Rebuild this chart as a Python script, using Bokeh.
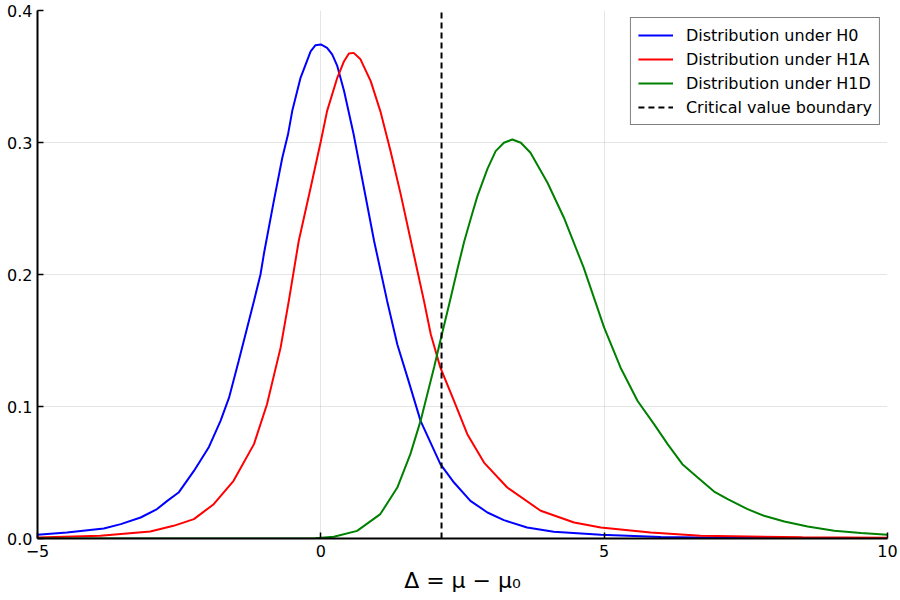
from bokeh.plotting import figure
from bokeh.models import Range1d, FixedTicker, PrintfTickFormatter
from bokeh.embed import file_html
from bokeh.resources import INLINE

# ---- data ----
x_h0 = [-5.0, -4.48, -3.83, -3.53, -3.18, -2.89, -2.71, -2.51, -2.24, -1.98, -1.77,
        -1.62, -1.45, -1.30, -1.18, -1.065, -1.006, -0.83, -0.68, -0.58, -0.505,
        -0.358, -0.18, -0.094, 0.0, 0.11, 0.2, 0.29, 0.41, 0.58, 0.76, 0.94, 1.17,
        1.35, 1.53, 1.76, 2.11, 2.35, 2.64, 2.94, 3.23, 3.64, 4.11, 4.94, 6.0, 7.0,
        8.0, 10.0]
y_h0 = [0.0028, 0.0045, 0.0076, 0.0109, 0.0159, 0.0223, 0.0285, 0.0348, 0.0512,
        0.0689, 0.0891, 0.1067, 0.1345, 0.1597, 0.180, 0.200, 0.2153, 0.2556, 0.2884,
        0.306, 0.3238, 0.349, 0.369, 0.3737, 0.3743, 0.3717, 0.3667, 0.358, 0.339,
        0.306, 0.2657, 0.2254, 0.180, 0.147, 0.1219, 0.0891, 0.0563, 0.0424, 0.0285,
        0.0197, 0.0139, 0.0083, 0.0051, 0.0028, 0.0012, 0.0006, 0.0004, 0.0002]

x_h1a = [-5.0, -3.89, -3.01, -2.60, -2.24, -1.89, -1.54, -1.18, -0.95, -0.71, -0.565,
         -0.39, -0.18, 0.0, 0.11, 0.29, 0.41, 0.495, 0.58, 0.70, 0.88, 1.05, 1.23,
         1.41, 1.64, 1.82, 1.94, 2.11, 2.35, 2.585, 2.88, 3.29, 3.88, 4.47, 4.94,
         5.82, 6.7, 8.5, 10.0]
y_h1a = [0.0007, 0.002, 0.0053, 0.0096, 0.0147, 0.026, 0.0437, 0.0715, 0.1017,
         0.1446, 0.180, 0.2254, 0.2657, 0.301, 0.3238, 0.349, 0.3616, 0.3674, 0.3679,
         0.363, 0.3465, 0.3238, 0.2935, 0.2607, 0.2153, 0.180, 0.1547, 0.1294, 0.1042,
         0.079, 0.0575, 0.0386, 0.021, 0.0121, 0.0083, 0.0045, 0.002, 0.001, 0.0005]

x_h1d = [-5.0, -1.0, -0.1, 0.23, 0.64, 1.05, 1.35, 1.58, 1.76, 2.0, 2.11, 2.29, 2.41,
         2.53, 2.65, 2.76, 2.94, 3.085, 3.23, 3.38, 3.53, 3.70, 4.0, 4.29, 4.64, 5.0,
         5.29, 5.59, 5.88, 6.12, 6.38, 6.65, 6.94, 7.18, 7.53, 7.82, 8.18, 8.59, 9.06,
         9.53, 10.0]
y_h1d = [0.0, 0.0, 0.0002, 0.0013, 0.0058, 0.0185, 0.0386, 0.0639, 0.0891, 0.130,
         0.150, 0.182, 0.204, 0.225, 0.243, 0.259, 0.280, 0.2935, 0.2998, 0.3023,
         0.2998, 0.2922, 0.2695, 0.243, 0.205, 0.1597, 0.1294, 0.1042, 0.0866, 0.0715,
         0.0563, 0.0462, 0.0356, 0.0298, 0.0223, 0.0172, 0.0129, 0.0091, 0.0058,
         0.0041, 0.0028]

crit_value = 2.13
x_limits = [-5, 10]
y_limits = [0.0, 0.4]
x_ticks = [-5, 0, 5, 10]
y_ticks = [0.0, 0.1, 0.2, 0.3, 0.4]

labels = ["Distribution under H0", "Distribution under H1A",
          "Distribution under H1D", "Critical value boundary"]

FONT = "DejaVu Sans"

p = figure(frame_width=850, frame_height=528, output_backend="svg",
           toolbar_location=None,
           x_range=Range1d(*x_limits), y_range=Range1d(*y_limits),
           min_border_left=37, min_border_right=13, min_border_top=10,
           min_border_bottom=62)
p.outline_line_color = None
p.background_fill_color = "white"
p.border_fill_color = "white"

p.line(x_h0, y_h0, line_color="#0000ff", line_width=2, legend_label=labels[0])
p.line(x_h1a, y_h1a, line_color="#ff0000", line_width=2, legend_label=labels[1])
p.line(x_h1d, y_h1d, line_color="#008000", line_width=2, legend_label=labels[2])
p.line([crit_value, crit_value], y_limits, line_color="black", line_width=2,
       line_dash="6 4", legend_label=labels[3])

p.xaxis.ticker = FixedTicker(ticks=x_ticks)
p.yaxis.ticker = FixedTicker(ticks=y_ticks)
p.yaxis.formatter = PrintfTickFormatter(format="%.1f")

p.axis.axis_line_color = "black"
p.axis.axis_line_width = 2
p.axis.major_tick_in = 6
p.axis.major_tick_out = 0
p.axis.major_tick_line_width = 1.5
p.axis.minor_tick_line_color = None
p.axis.major_label_text_font = FONT
p.axis.major_label_text_font_size = "16px"
p.axis.major_label_text_color = "black"
p.yaxis.major_label_standoff = 5
p.xaxis.major_label_standoff = 6

p.xaxis.axis_label = "Δ = μ − μ₀"
p.xaxis.axis_label_text_font = FONT
p.xaxis.axis_label_text_font_size = "22px"
p.xaxis.axis_label_text_font_style = "normal"
p.xaxis.axis_label_text_color = "black"
p.xaxis.axis_label_standoff = 8

p.grid.grid_line_color = "black"
p.grid.grid_line_alpha = 0.1
p.grid.grid_line_width = 1

lg = p.legend[0]
lg.location = "top_right"
lg.margin = 7
lg.border_line_color = "black"
lg.border_line_width = 1.5
lg.background_fill_color = "white"
lg.background_fill_alpha = 1.0
lg.label_text_font = FONT
lg.label_text_font_size = "16px"
lg.label_text_color = "black"
lg.glyph_width = 35
lg.glyph_height = 20
lg.label_height = 20
lg.label_standoff = 13
lg.padding = 7
lg.spacing = 4

open("out.html", "w").write(file_html(p, INLINE))
